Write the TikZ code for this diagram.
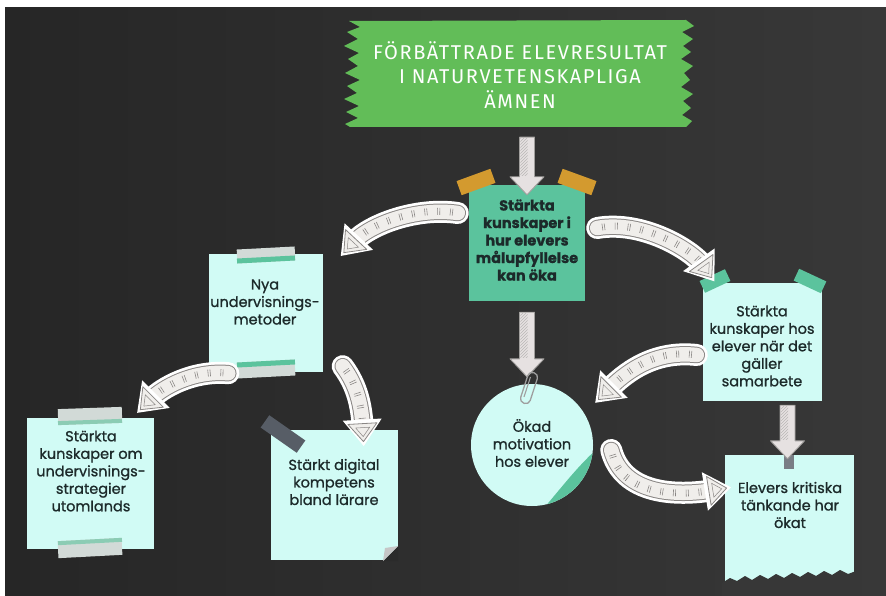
\documentclass[tikz,border=0pt]{standalone}
\usepackage{fontspec}
\setmainfont{Poppins}
\newfontfamily\boxfont{Poppins}[FakeBold=1.0]
\newfontfamily\titlefont{Fira Sans}[LetterSpace=8]
\usetikzlibrary{calc,decorations.markings,patterns}
\definecolor{boardA}{HTML}{262626}
\definecolor{boardB}{HTML}{383838}
\definecolor{paper}{HTML}{D1FBF5}
\definecolor{tealc}{HTML}{5BC39D}
\definecolor{bannerg}{HTML}{62BD58}
\definecolor{orangetape}{HTML}{D39A2F}
\definecolor{darktape}{HTML}{575D66}
\definecolor{graytape}{HTML}{D2DAD7}
\definecolor{arrfill}{HTML}{F0EEEB}
\definecolor{arredge}{HTML}{8A8785}
\definecolor{hatchfill}{HTML}{E6E1E1}
\definecolor{ink}{HTML}{1C2A2A}
\newcommand\vertarrow[2]{%
  \path (#1) coordinate (va-s) (#2) coordinate (va-e);
  \filldraw[fill=hatchfill, draw=arredge!80, line width=0.9pt, line join=round]
    ($(va-s)+(-7.5,0)$) -- ($(va-e)+(-7.5,-18)$) -- ($(va-e)+(-17,-18)$) -- (va-e)
    -- ($(va-e)+(17,-18)$) -- ($(va-e)+(7.5,-18)$) -- ($(va-s)+(7.5,0)$) -- cycle;
  \fill[pattern=north east lines, pattern color=arredge!60]
    ($(va-s)+(-6.6,1)$) rectangle ($(va-e)+(0.5,-19)$);
}
\tikzset{
  paperbox/.style={fill=paper, draw=none, inner sep=0pt},
  txt/.style={text=ink, align=center, inner sep=0pt, font=\boxfont\fontsize{14.5}{17.5}\selectfont},
  tape/.style={inner sep=0pt, draw=none},
  curvedarrow/.style={
    draw=white, line width=22pt, shorten >=15pt, line cap=round,
    postaction={draw=arredge, line width=16.5pt, shorten >=15pt, line cap=round},
    postaction={draw=arrfill, line width=14.5pt, shorten >=15pt, line cap=round},
    postaction={draw=arredge, line width=7pt, line cap=butt, shorten >=19pt, shorten <=5pt,
                dash pattern=on 0.6pt off 1.6pt on 0.6pt off 10pt},
    postaction={decorate, decoration={markings, mark=at position -0.2pt with {
        \fill[white] (4.5,0) -- (-22,19.5) -- (-22,-19.5) -- cycle;
        \filldraw[fill=arrfill, draw=arredge, line width=0.8pt, line join=round]
          (0,0) -- (-18,14.5) -- (-18,-14.5) -- cycle;
        \draw[arredge, line width=0.5pt] (-5,0) -- (-14,7) -- (-14,-7) -- cycle;
      }}}}
}
\begin{document}
\begin{tikzpicture}[x=1pt, y=-1pt]
\useasboundingbox (0,0) rectangle (886,596);
\fill[white] (0,0) rectangle (886,596);
\shade[left color=boardA, right color=boardB] (5,8) rectangle (886,596);

% ---- title banner
\node[inner sep=0pt, minimum width=345, minimum height=106] (banner) at (519,74) {};
\fill[bannerg] (349,21) -- (686,20) -- (694,26) -- (682,32) -- (693,39) -- (683,46) -- (691,52)
  -- (681,59) -- (693,66) -- (684,73) -- (690,80) -- (681,87) -- (693,94) -- (683,101)
  -- (691,108) -- (682,115) -- (692,121) -- (686,127) -- (350,127) -- (345,124) -- (358,118)
  -- (346,112) -- (359,106) -- (344,99) -- (357,93) -- (347,86) -- (360,80) -- (345,73)
  -- (358,66) -- (348,59) -- (359,53) -- (344,46) -- (358,39) -- (347,32) -- (360,27) -- cycle;
\node[text=white, align=center, inner sep=0pt,
      font=\titlefont\fontsize{20}{24.5}\selectfont] (ttl) at (520,75)
  {FÖRBÄTTRADE ELEVRESULTAT\\I NATURVETENSKAPLIGA\\ÄMNEN};

% ---- boxes
\node[paperbox, fill=tealc, minimum width=116, minimum height=116] (c) at (527,243) {};
\node[txt, font=\boxfont\bfseries\fontsize{14.5}{17.5}\selectfont] (ct) at (527,240)
  {Stärkta\\kunskaper i\\hur elevers\\målupfyllelse\\kan öka};

\node[paperbox, minimum width=114, minimum height=118] (nya) at (265.5,313) {};
\node[txt] (nyat) at (265,302) {Nya\\undervisnings-\\metoder};

\node[paperbox, minimum width=127, minimum height=131] (strat) at (90.5,483.5) {};
\node[txt] (stratt) at (91,471) {Stärkta\\kunskaper om\\undervisnings-\\strategier\\utomlands};

\node[paperbox, minimum width=127, minimum height=130] (dig) at (334.5,495) {};
\node[txt] (digt) at (334,482) {Stärkt digital\\kompetens\\bland lärare};

\node[paperbox, minimum width=119, minimum height=118] (sam) at (762.5,342) {};
\node[txt] (samt) at (762,346) {Stärkta\\kunskaper hos\\elever när det\\gäller\\samarbete};

\node[paperbox, circle, minimum size=122] (motiv) at (532,445) {};
\begin{scope}
  \clip (532,445) circle[radius=61];
  \fill[tealc] (600,446) .. controls (578,466) and (566,482) .. (544,508) -- (620,530) -- cycle;
\end{scope}
\node[txt] (motivt) at (532,443) {Ökad\\motivation\\hos elever};

\node[paperbox, minimum width=129, minimum height=128] (krit) at (789.5,519) {};
\node[txt] (kritt) at (790,505) {Elevers kritiska\\tänkande har\\ökat};
\fill[boardB!92!boardA] (722,596) -- (722,583) -- (730,578) -- (737,581) -- (745,576) -- (752,580)
  -- (760,575) -- (768,579) -- (776,574) -- (784,578) -- (792,573) -- (800,577) -- (808,572)
  -- (816,576) -- (824,571) -- (832,575) -- (840,570) -- (848,574) -- (856,571) -- (856,596) -- cycle;

% digital curl
\fill[boardA!70!boardB] (398,546) -- (398,561) -- (383,561) -- cycle;
\fill[gray!45] (398,546) -- (383,561) -- (385,548) -- cycle;

% ---- tapes
\node[tape, fill=orangetape, minimum width=36, minimum height=15, rotate=20] (tp1) at (476,182) {};
\node[tape, fill=orangetape, minimum width=36, minimum height=15, rotate=-20] (tp2) at (577,182) {};
\node[tape, fill=tealc, minimum width=28, minimum height=13, rotate=25] (tp3) at (715,281) {};
\node[tape, fill=tealc, minimum width=30, minimum height=13, rotate=-25] (tp4) at (810,281) {};
\node[tape, fill=graytape, minimum width=58, minimum height=14, rotate=3] (tp5) at (266,255) {};
\node[tape, fill=tealc, minimum width=58, minimum height=5, rotate=3] (tp5b) at (266,259.5) {};
\node[tape, fill=graytape, minimum width=58, minimum height=16, rotate=3] (tp6) at (266,369) {};
\node[tape, fill=tealc, minimum width=58, minimum height=5, rotate=3] (tp6b) at (266,363.5) {};
\node[tape, fill=graytape, minimum width=64, minimum height=16, rotate=2] (tp7) at (90,416) {};
\node[tape, fill=tealc!60!graytape, minimum width=64, minimum height=4, rotate=2] (tp7b) at (90,422) {};
\node[tape, fill=graytape, minimum width=64, minimum height=17, rotate=3] (tp8) at (90,548) {};
\node[tape, fill=tealc!60!graytape, minimum width=64, minimum height=4, rotate=3] (tp8b) at (90,541.5) {};
\node[tape, fill=darktape, minimum width=44, minimum height=15, rotate=-35] (tp9) at (283,434) {};
\node[tape, fill=darktape!80, minimum width=10, minimum height=14] (tp10) at (789,462) {};

% ---- straight arrows
\vertarrow{$(banner.south)+(8,10)$}{$(c.north)+(0,10)$}
\vertarrow{$(c.south)+(0,11)$}{$(c.south |- motiv.north)+(0,-7)$}
\vertarrow{$(sam.south)+(25,4)$}{$(sam.south |- krit.north)+(25,4)$}

% paper clip
\draw[gray!75, line width=1.3pt, rounded corners=4.5pt, rotate around={-18:(529,388)}]
  (524,372) rectangle (534,404);
\draw[gray!75, line width=1.1pt, rotate around={-18:(529,388)}] (527,377) -- (527,398);

% ---- curved arrows
\draw[curvedarrow] ($(c.west)+(-11,-30)$) .. controls +(-42,-6) and +(26,-28) .. ($(nya.north east)+(21,-1)$);
\draw[curvedarrow] ($(c.east)+(12,-15)$) .. controls +(45,-8) and +(-20,-28) .. ($(sam.north west)+(9,-5)$);
\draw[curvedarrow] ($(nya.south west)+(20,1)$) .. controls +(-36,-3) and +(22,-22) .. ($(strat.north east)+(-14,-8)$);
\draw[curvedarrow] ($(nya.south east)+(20,-6)$) .. controls +(15,20) and +(-2,-35) .. ($(dig.north)+(29,12)$);
\draw[curvedarrow] ($(sam.west)+(-6,13)$) .. controls +(-45,-5) and +(25,-25) .. ($(motiv.north east)+(23,-2)$);
\draw[curvedarrow] ($(motiv.east)+(18,5)$) .. controls +(12,45) and +(-50,8) .. ($(krit.west)+(2,-31)$);
\end{tikzpicture}
\end{document}
